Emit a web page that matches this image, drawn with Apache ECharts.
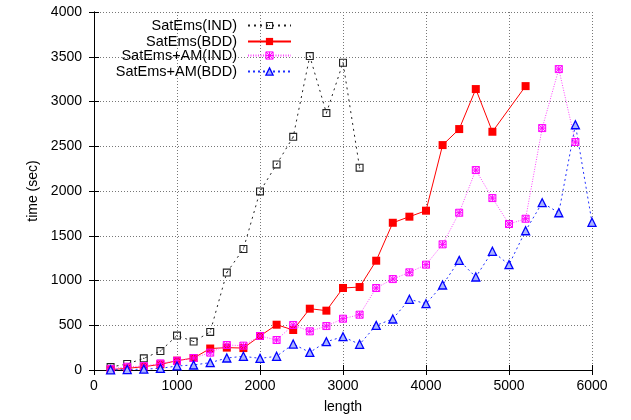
<!DOCTYPE html>
<html>
<head>
<meta charset="utf-8">
<script src="https://cdn.jsdelivr.net/npm/echarts@6/dist/echarts.min.js"></script>
<style>html,body{margin:0;padding:0;background:#fff}#c{width:631px;height:420px}</style>
</head>
<body>
<div id="c"></div>
<script>
var lengths = [200,400,600,800,1000,1200,1400,1600,1800,2000,2200,2400,2600,2800,3000,3200,3400,3600,3800,4000,4200,4400,4600,4800,5000,5200,5400,5600,5800,6000];
var satEmsIND = [33,67,130,212,385,318,425,1088,1352,1995,2297,2605,3507,2871,3433,2260];
var satEmsBDD = [5,18,37,63,104,134,240,250,245,380,506,447,685,663,916,927,1221,1645,1713,1780,2513,2692,3139,2662,null,3172];
var satEmsAmIND = [12,37,43,74,104,134,194,279,272,380,335,503,432,491,573,618,916,1016,1091,1177,1404,1757,2234,1921,1631,1690,2703,3362,2547];
var satEmsAmBDD = [2,5,10,18,45,56,82,134,153,130,153,290,197,316,372,287,499,570,790,741,950,1225,1039,1326,1177,1556,1869,1757,2740,1650];
var names = ['SatEms(IND)','SatEms(BDD)','SatEms+AM(IND)','SatEms+AM(BDD)'];

function pairs(vals){ return vals.map(function(v,i){ return [lengths[i], v]; }); }
function plain(v){ return String(v); }

var font = 'Liberation Sans, Arial, Helvetica, sans-serif';
var gridLine = {show:true, lineStyle:{color:'#777', type:[1,2], width:1}};
var chart = echarts.init(document.getElementById('c'), null, {renderer:'canvas'});
var legendTops = [18, 34, 48, 64];
var styles = [
  {color:'#222', borderColor:'#222', borderWidth:0},
  {color:'#ff0000', borderColor:'#ff0000', borderWidth:0},
  {color:'rgba(255,0,255,0.15)', borderColor:'#ff00ff', borderWidth:1},
  {color:'#aab4ff', borderColor:'#0000ff', borderWidth:1.3}
];
var option = {
  animation:false,
  grid:{left:94, right:39, top:12, bottom:50, show:false},
  legend: names.map(function(n,i){ return {
    data:[{name:n, itemStyle:styles[i]}], orient:'vertical', align:'right', right:339, top:legendTops[i],
    itemWidth:43, itemHeight:9, padding:0, selectedMode:false,
    textStyle:{fontFamily:font, fontSize:14.5, color:'#000', padding:[0,6,0,0]}
  };}),
  xAxis:[{
    type:'value', min:0, max:6000, interval:1000,
    name:'length', nameLocation:'middle', nameGap:30,
    nameTextStyle:{fontFamily:font, fontSize:14, color:'#000'},
    axisLine:{show:true, onZero:false, lineStyle:{color:'#000', width:1}},
    axisTick:{show:true, inside:true, length:5, lineStyle:{color:'#000'}},
    axisLabel:{fontFamily:font, fontSize:14, color:'#000', margin:9, formatter:plain},
    splitLine:gridLine
  },{
    type:'value', position:'top', min:0, max:6000, interval:1000,
    axisLine:{show:true, lineStyle:{color:'#000', width:1}},
    axisTick:{show:true, inside:true, length:5, lineStyle:{color:'#000'}},
    axisLabel:{show:false}, splitLine:{show:false}
  }],
  yAxis:[{
    type:'value', min:0, max:4000, interval:500,
    name:'time (sec)', nameLocation:'middle', nameGap:50,
    nameTextStyle:{fontFamily:font, fontSize:14, color:'#000'},
    axisLine:{show:true, onZero:false, lineStyle:{color:'#000', width:1}},
    axisTick:{show:true, inside:true, length:5, lineStyle:{color:'#000'}},
    axisLabel:{fontFamily:font, fontSize:14, color:'#000', margin:12, formatter:plain},
    splitLine:gridLine
  },{
    type:'value', position:'right', min:0, max:4000, interval:500,
    axisLine:{show:true, lineStyle:{color:'#000', width:1}},
    axisTick:{show:true, inside:true, length:5, lineStyle:{color:'#000'}},
    axisLabel:{show:false}, splitLine:{show:false}
  }],
  series:[
    {name:names[0], type:'line', data:pairs(satEmsIND), clip:false,
     symbol:'path://M0,0L10,0L10,10L0,10ZM1.4,1.4L1.4,8.6L8.6,8.6L8.6,1.4ZM4.3,4.3L4.3,5.7L5.7,5.7L5.7,4.3Z', symbolSize:8, showAllSymbol:true,
     itemStyle:{color:'#222'}, lineStyle:{color:'#222', width:1, type:[2,4]}},
    {name:names[1], type:'line', data:pairs(satEmsBDD), clip:false, connectNulls:true,
     symbol:'rect', symbolSize:8, showAllSymbol:true,
     itemStyle:{color:'#ff0000'}, lineStyle:{color:'#ff0000', width:1, type:'solid'}},
    {name:names[2], type:'line', data:pairs(satEmsAmIND), clip:false,
     symbol:'path://M0,0L10,10M10,0L0,10M5,0L5,10M0,5L10,5M0,0L10,0L10,10L0,10Z', symbolSize:7, showAllSymbol:true,
     itemStyle:{color:'rgba(255,0,255,0.15)', borderColor:'#ff00ff', borderWidth:1}, lineStyle:{color:'#ff44ff', width:1, type:[1,1.5]}},
    {name:names[3], type:'line', data:pairs(satEmsAmBDD), clip:false,
     symbol:'triangle', symbolSize:8, showAllSymbol:true,
     itemStyle:{color:'#aab4ff', borderColor:'#0000ff', borderWidth:1.3}, lineStyle:{color:'#2030ff', width:1, type:[2,3]}}
  ]
};
chart.setOption(option);
</script>
</body>
</html>
